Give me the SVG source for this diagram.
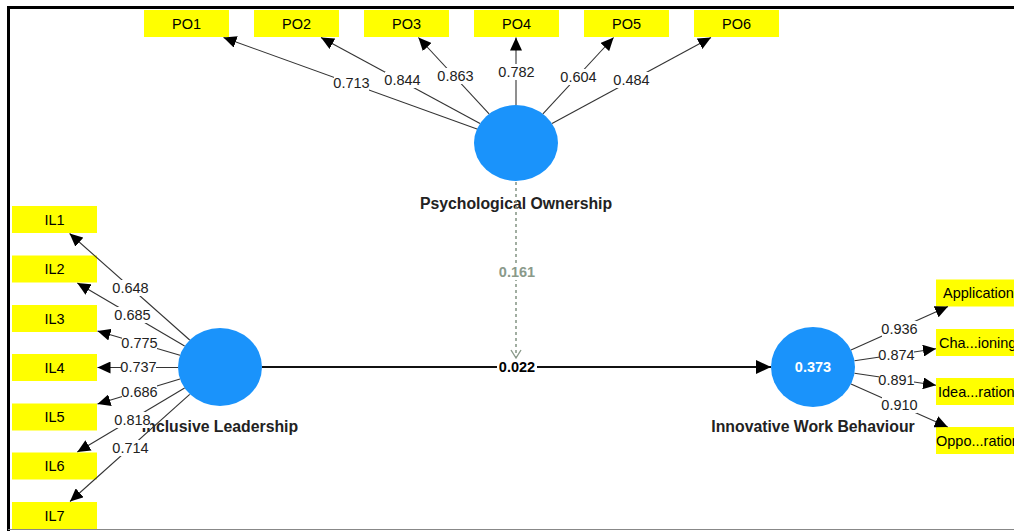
<svg xmlns="http://www.w3.org/2000/svg" width="1014" height="531" viewBox="0 0 1014 531">
<defs>
<style>
.box{fill:#ffff00}
.bt{font-family:"Liberation Sans",Arial,sans-serif;font-size:14.5px;fill:#000;text-anchor:middle}
.bts{font-family:"Liberation Sans",Arial,sans-serif;font-size:14.5px;fill:#000;text-anchor:start}
.lv{fill:#1a93fb}
.lt{font-family:"Liberation Sans",Arial,sans-serif;font-size:15.8px;font-weight:bold;fill:#222;text-anchor:middle}
.ind{stroke:#333;stroke-width:1.1;fill:none;marker-end:url(#ah)}
.coef{font-family:"Liberation Sans",Arial,sans-serif;font-size:14.5px;fill:#222;text-anchor:middle}
.bg{fill:#fff}
</style>
<marker id="ah" markerUnits="userSpaceOnUse" markerWidth="14" markerHeight="12" viewBox="0 0 14 12" refX="13" refY="6" orient="auto">
<path d="M0,0 L13,6 L0,12 Z" fill="#000"/>
</marker>
<marker id="ahb" markerUnits="userSpaceOnUse" markerWidth="16" markerHeight="14" viewBox="0 0 16 14" refX="15" refY="7" orient="auto">
<path d="M0,0 L15,7 L0,14 Z" fill="#000"/>
</marker>
<marker id="aho" markerUnits="userSpaceOnUse" markerWidth="12" markerHeight="12" viewBox="0 0 12 12" refX="10" refY="6" orient="auto">
<path d="M2,1 L10,6 L2,11" fill="none" stroke="#8a9a8a" stroke-width="1.4"/>
</marker>
</defs>
<rect width="1014" height="531" fill="#fff"/>
<g id="frame">
<line x1="7" y1="7.5" x2="1014" y2="7.5" stroke="#000" stroke-width="3"/>
<line x1="8.5" y1="6" x2="8.5" y2="531" stroke="#000" stroke-width="3"/>
<line x1="8" y1="529.5" x2="1014" y2="529.5" stroke="#888" stroke-width="1"/>
</g>
<g id="nodes">
<g id="PO1"><rect class="box" x="144" y="10" width="85" height="27"/><text class="bt" x="186.5" y="28.5">PO1</text></g>
<g id="PO2"><rect class="box" x="254" y="10" width="85" height="27"/><text class="bt" x="296.5" y="28.5">PO2</text></g>
<g id="PO3"><rect class="box" x="364" y="10" width="85" height="27"/><text class="bt" x="406.5" y="28.5">PO3</text></g>
<g id="PO4"><rect class="box" x="474" y="10" width="85" height="27"/><text class="bt" x="516.5" y="28.5">PO4</text></g>
<g id="PO5"><rect class="box" x="584" y="10" width="85" height="27"/><text class="bt" x="626.5" y="28.5">PO5</text></g>
<g id="PO6"><rect class="box" x="694" y="10" width="85" height="27"/><text class="bt" x="736.5" y="28.5">PO6</text></g>
<g id="IL1"><rect class="box" x="12" y="206" width="85" height="27"/><text class="bt" x="54.5" y="224.5">IL1</text></g>
<g id="IL2"><rect class="box" x="12" y="255.5" width="85" height="27"/><text class="bt" x="54.5" y="274">IL2</text></g>
<g id="IL3"><rect class="box" x="12" y="305" width="85" height="27"/><text class="bt" x="54.5" y="323.5">IL3</text></g>
<g id="IL4"><rect class="box" x="12" y="354" width="85" height="27"/><text class="bt" x="54.5" y="372.5">IL4</text></g>
<g id="IL5"><rect class="box" x="12" y="403.5" width="85" height="27"/><text class="bt" x="54.5" y="422">IL5</text></g>
<g id="IL6"><rect class="box" x="12" y="452.5" width="85" height="27"/><text class="bt" x="54.5" y="471">IL6</text></g>
<g id="IL7"><rect class="box" x="12" y="502" width="85" height="27"/><text class="bt" x="54.5" y="520.5">IL7</text></g>
<g id="IWB1"><rect class="box" x="936" y="279.5" width="85" height="27"/><text class="bts" x="943" y="298">Application</text></g>
<g id="IWB2"><rect class="box" x="936" y="329" width="85" height="27"/><text class="bts" x="939" y="347.5">Cha...ioning</text></g>
<g id="IWB3"><rect class="box" x="936" y="378" width="85" height="27"/><text class="bts" x="938" y="396.5">Idea...ration</text></g>
<g id="IWB4"><rect class="box" x="936" y="427" width="85" height="27"/><text class="bts" x="936" y="445.5">Oppo...ration</text></g>
<g id="PsychologicalOwnership"><ellipse class="lv" cx="516" cy="143" rx="42" ry="38"/><text class="lt" x="516" y="209">Psychological Ownership</text></g>
<g id="InclusiveLeadership"><ellipse class="lv" cx="220" cy="367" rx="42" ry="39"/><text class="lt" x="220" y="432">Inclusive Leadership</text></g>
<g id="InnovativeWorkBehaviour"><ellipse class="lv" cx="813" cy="367" rx="42" ry="40"/><text x="813" y="372" font-family="Liberation Sans,Arial,sans-serif" font-size="14.5" font-weight="bold" fill="#fff" text-anchor="middle">0.373</text><text class="lt" x="813" y="432">Innovative Work Behaviour</text></g>
</g>
<g id="connectors">
<line class="ind" x1="477" y1="128.9" x2="223.5" y2="37.5"/>
<line class="ind" x1="480" y1="123.4" x2="321" y2="37.5"/>
<line class="ind" x1="489.1" y1="113.8" x2="418.4" y2="37.5"/>
<line class="ind" x1="516" y1="105" x2="516" y2="37.5"/>
<line class="ind" x1="542.9" y1="113.8" x2="613.6" y2="37.5"/>
<line class="ind" x1="552" y1="123.4" x2="711" y2="37.5"/>
<line class="ind" x1="189.7" y1="340" x2="69.6" y2="233.5"/>
<line class="ind" x1="184.6" y1="346" x2="77.3" y2="283"/>
<line class="ind" x1="180" y1="355.3" x2="97.5" y2="331"/>
<line class="ind" x1="178" y1="367.5" x2="97.5" y2="367.5"/>
<line class="ind" x1="180" y1="379" x2="97.5" y2="404"/>
<line class="ind" x1="184.6" y1="388" x2="77.3" y2="452"/>
<line class="ind" x1="189.7" y1="394.4" x2="70" y2="501.5"/>
<line class="ind" x1="851" y1="350" x2="948" y2="306.5"/>
<line class="ind" x1="854.5" y1="360.8" x2="936" y2="348.7"/>
<line class="ind" x1="854.5" y1="373.2" x2="936" y2="385.3"/>
<line class="ind" x1="851" y1="384" x2="947.7" y2="427"/>
<line x1="262" y1="367" x2="771" y2="367" stroke="#111" stroke-width="2" marker-end="url(#ahb)"/>
<line x1="516" y1="182" x2="516" y2="358" stroke="#8a9a8a" stroke-width="1.6" stroke-dasharray="3 3" marker-end="url(#aho)"/>
<g id="labels">
<rect class="bg" x="334" y="75" width="35" height="16"/><text class="coef" x="351.5" y="88">0.713</text>
<rect class="bg" x="385" y="72" width="35" height="16"/><text class="coef" x="402.5" y="85">0.844</text>
<rect class="bg" x="438" y="68" width="35" height="16"/><text class="coef" x="455.5" y="81">0.863</text>
<rect class="bg" x="499" y="64" width="35" height="16"/><text class="coef" x="516.5" y="77">0.782</text>
<rect class="bg" x="561" y="69" width="35" height="16"/><text class="coef" x="578.5" y="82">0.604</text>
<rect class="bg" x="614" y="72" width="35" height="16"/><text class="coef" x="631.5" y="85">0.484</text>
<rect class="bg" x="113" y="280" width="35" height="16"/><text class="coef" x="130.5" y="293">0.648</text>
<rect class="bg" x="115" y="307" width="35" height="16"/><text class="coef" x="132.5" y="320">0.685</text>
<rect class="bg" x="122" y="335" width="35" height="16"/><text class="coef" x="139.5" y="348">0.775</text>
<rect class="bg" x="121" y="359" width="35" height="16"/><text class="coef" x="138.5" y="372">0.737</text>
<rect class="bg" x="122" y="384" width="35" height="16"/><text class="coef" x="139.5" y="397">0.686</text>
<rect class="bg" x="115" y="412" width="35" height="16"/><text class="coef" x="132.5" y="425">0.818</text>
<rect class="bg" x="113" y="440" width="35" height="16"/><text class="coef" x="130.5" y="453">0.714</text>
<rect class="bg" x="882" y="321" width="35" height="16"/><text class="coef" x="899.5" y="334">0.936</text>
<rect class="bg" x="879" y="347" width="35" height="16"/><text class="coef" x="896.5" y="360">0.874</text>
<rect class="bg" x="879" y="372" width="35" height="16"/><text class="coef" x="896.5" y="385">0.891</text>
<rect class="bg" x="882" y="397" width="35" height="16"/><text class="coef" x="899.5" y="410">0.910</text>
<rect class="bg" x="497" y="359" width="40" height="16"/><text class="coef" x="517" y="372" style="font-weight:bold;fill:#000">0.022</text>
<rect class="bg" x="498" y="264" width="38" height="16"/><text class="coef" x="517" y="277" style="font-weight:bold;fill:#8a9a8a">0.161</text>
</g>
</g>
</svg>
